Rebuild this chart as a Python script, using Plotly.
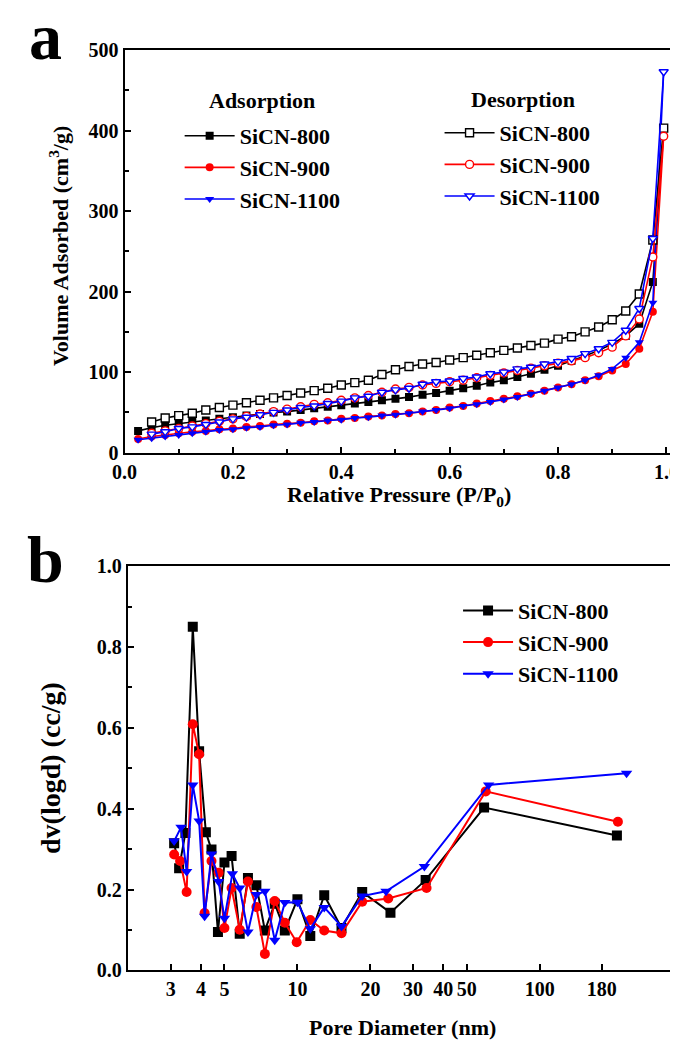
import plotly.graph_objects as go

# ---------------- data: panel a (N2 isotherms) ----------------
p_ads = [0.025, 0.05, 0.075, 0.1, 0.125, 0.15, 0.175, 0.2, 0.225, 0.25,
         0.275, 0.3, 0.325, 0.35, 0.375, 0.4, 0.425, 0.45, 0.475, 0.5,
         0.525, 0.55, 0.575, 0.6, 0.625, 0.65, 0.675, 0.7, 0.725, 0.75,
         0.775, 0.8, 0.825, 0.85, 0.875, 0.9, 0.925, 0.95, 0.975, 0.995]
p_des = [0.05, 0.075, 0.1, 0.125, 0.15, 0.175, 0.2, 0.225, 0.25,
         0.275, 0.3, 0.325, 0.35, 0.375, 0.4, 0.425, 0.45, 0.475, 0.5,
         0.525, 0.55, 0.575, 0.6, 0.625, 0.65, 0.675, 0.7, 0.725, 0.75,
         0.775, 0.8, 0.825, 0.85, 0.875, 0.9, 0.925, 0.95, 0.975, 0.995]

ads_800 = [27, 31, 34, 36, 38, 40, 42, 44, 46, 48, 50, 51, 53, 55, 57, 59, 61, 63, 65, 67,
           69, 72, 74, 77, 80, 83, 87, 90, 94, 98, 103, 108, 114, 120, 127, 135, 145, 160, 212, 403]
ads_900 = [17, 20, 22, 24, 26, 27, 29, 30, 32, 33, 35, 36, 37, 39, 40, 42, 43, 45, 46, 48,
           49, 51, 53, 56, 58, 61, 64, 67, 70, 73, 77, 81, 85, 90, 95, 102, 110, 129, 175, 393]
ads_1100 = [16, 18, 20, 22, 24, 26, 28, 29, 31, 32, 34, 35, 37, 38, 40, 41, 43, 44, 46, 47,
            49, 51, 53, 55, 58, 60, 63, 66, 69, 73, 77, 81, 85, 90, 96, 104, 118, 137, 186, 473]

des_800 = [38, 43, 46, 49, 53, 56, 59, 62, 65, 68, 71, 74, 77, 80, 84, 87, 90, 97, 103, 107,
           110, 112, 115, 118, 121, 124, 127, 130, 133, 136, 141, 144, 150, 156, 165, 176, 197, 264, 403]
des_900 = [24, 27, 30, 33, 36, 39, 42, 45, 48, 51, 54, 57, 60, 62, 65, 68, 71, 75, 79, 81,
           84, 86, 88, 90, 93, 96, 99, 102, 105, 108, 111, 114, 118, 124, 131, 145, 166, 243, 393]
des_1100 = [23, 26, 30, 32, 35, 38, 42, 44, 47, 50, 53, 56, 58, 61, 64, 68, 70, 75, 78, 80,
            85, 88, 89, 92, 94, 98, 100, 104, 106, 110, 113, 117, 123, 129, 137, 152, 179, 266, 473]

# ---------------- data: panel b (pore size distribution) ----------------
d_800 = [3.10, 3.25, 3.45, 3.70, 3.93, 4.19, 4.42, 4.70, 5.00, 5.35, 5.78, 6.25, 6.77, 7.34,
         8.06, 8.87, 10.0, 11.3, 12.9, 15.2, 18.5, 24.2, 33.8, 58.9, 208]
v_800 = [0.315, 0.253, 0.340, 0.850, 0.542, 0.342, 0.299, 0.095, 0.267, 0.283, 0.091, 0.229,
         0.211, 0.099, 0.165, 0.099, 0.176, 0.085, 0.186, 0.105, 0.194, 0.143, 0.224, 0.403, 0.334]
d_900 = [3.10, 3.28, 3.49, 3.70, 3.93, 4.14, 4.42, 4.73, 5.00, 5.35, 5.78, 6.25, 6.77, 7.34,
         8.06, 8.87, 9.93, 11.3, 12.9, 15.2, 18.5, 23.7, 34.1, 59.8, 210]
v_900 = [0.287, 0.271, 0.194, 0.609, 0.535, 0.142, 0.271, 0.242, 0.105, 0.204, 0.101, 0.220,
         0.157, 0.041, 0.172, 0.118, 0.070, 0.125, 0.099, 0.092, 0.170, 0.178, 0.204, 0.443, 0.368]
d_1100 = [3.10, 3.31, 3.49, 3.70, 3.93, 4.14, 4.42, 4.73, 5.00, 5.39, 5.78, 6.25, 6.77, 7.34,
          8.06, 8.87, 10.0, 11.3, 12.9, 15.2, 18.5, 23.2, 33.4, 61.5, 228]
v_1100 = [0.320, 0.354, 0.245, 0.459, 0.370, 0.134, 0.288, 0.220, 0.129, 0.239, 0.204, 0.095,
          0.188, 0.196, 0.075, 0.168, 0.169, 0.103, 0.156, 0.109, 0.184, 0.196, 0.257, 0.459, 0.488]

pore_ticks = [3, 4, 5, 10, 20, 30, 40, 50, 100, 180]
names = ["SiCN-800", "SiCN-900", "SiCN-1100"]
colors = ["#000000", "#ff0000", "#0000ff"]

# ---------------- figure ----------------
W, H = 678, 1042
FONT = "Liberation Serif"


def px(x):
    return x / W


def py(y):
    return 1 - y / H


fig = go.Figure()

ads_sets = [ads_800, ads_900, ads_1100]
des_sets = [des_800, des_900, des_1100]
filled = ["square", "circle", "triangle-down"]

for name, col, sym, ys in zip(names, colors, filled, ads_sets):
    fig.add_trace(go.Scatter(
        x=p_ads, y=ys, mode="lines+markers", name=name, legend="legend",
        line=dict(color=col, width=1.6),
        marker=dict(symbol=sym, size=8, color=col, line=dict(width=0)),
        xaxis="x", yaxis="y"))

for name, col, sym, ys in zip(names, colors, filled, des_sets):
    fig.add_trace(go.Scatter(
        x=p_des, y=ys, mode="lines+markers", name=name, legend="legend2",
        line=dict(color=col, width=1.6),
        marker=dict(symbol=sym, size=8, color="white", line=dict(color=col, width=1.4)),
        xaxis="x", yaxis="y"))

for name, col, sym, xs, ys in zip(names, colors, filled,
                                  [d_800, d_900, d_1100], [v_800, v_900, v_1100]):
    fig.add_trace(go.Scatter(
        x=xs, y=ys, mode="lines+markers", name=name, legend="legend3",
        line=dict(color=col, width=2),
        marker=dict(symbol=sym, size=10, color=col, line=dict(width=0)),
        xaxis="x2", yaxis="y2"))

tickfont = dict(family=FONT, size=20, color="black", weight="bold")
axis_common = dict(showline=True, linewidth=2, linecolor="black", mirror=True,
                   ticks="inside", ticklen=6, tickwidth=1.5, tickcolor="black",
                   showgrid=False, zeroline=False, tickfont=tickfont)

top_x = [107.4, 670.8]
top_y = [31.7, 443.0]
bot_x = [110.7, 674.6]
bot_y = [559.0, 972.0]

legend_font = dict(family=FONT, size=22, weight="bold", color="black")

fig.update_layout(
    width=W, height=H,
    margin=dict(l=0, r=0, t=0, b=0),
    paper_bgcolor="white", plot_bgcolor="white",
    font=dict(family=FONT, color="black"),
    xaxis=dict(domain=[px(top_x[0]), px(top_x[1])], anchor="y",
               range=[0, 1.0122], tickmode="linear", tick0=0, dtick=0.2,
               tickformat=".1f",
               minor=dict(ticks="inside", dtick=0.1, ticklen=4, tickcolor="black"),
               **axis_common),
    yaxis=dict(domain=[py(top_y[1]), py(top_y[0])], anchor="x",
               range=[0, 500], tickmode="linear", tick0=0, dtick=100,
               minor=dict(ticks="inside", dtick=50, ticklen=4, tickcolor="black"),
               **axis_common),
    xaxis2=dict(domain=[px(bot_x[0]), px(bot_x[1])], anchor="y2", type="log",
                range=[0.300, 2.5647], tickmode="array",
                tickvals=pore_ticks, ticktext=[str(t) for t in pore_ticks],
                **axis_common),
    yaxis2=dict(domain=[py(bot_y[1]), py(bot_y[0])], anchor="x2",
                range=[0, 1.0], tickmode="linear", tick0=0, dtick=0.2,
                tickformat=".1f",
                minor=dict(ticks="inside", dtick=0.1, ticklen=4, tickcolor="black"),
                **axis_common),
    legend=dict(x=px(164), y=py(98), xanchor="left", yanchor="top",
                bgcolor="rgba(0,0,0,0)", itemwidth=50, font=legend_font,
                tracegroupgap=0),
    legend2=dict(x=px(431), y=py(95), xanchor="left", yanchor="top",
                 bgcolor="rgba(0,0,0,0)", itemwidth=50, font=legend_font,
                 tracegroupgap=0),
    legend3=dict(x=px(450), y=py(583), xanchor="left", yanchor="top",
                 bgcolor="rgba(0,0,0,0)", itemwidth=50, font=legend_font,
                 tracegroupgap=0),
    showlegend=True,
)

title_font = dict(family=FONT, size=22, color="black", weight="bold")
annotations = [
    dict(text="Volume Adsorbed (cm<sup>3</sup>/g)", x=px(40), y=py(232), textangle=-90),
    dict(text="Relative Pressure (P/P<sub>0</sub>)", x=px((top_x[0] + top_x[1]) / 2), y=py(487)),
    dict(text="dv(logd) (cc/g)", x=px(32), y=py(765), textangle=-90,
         font=dict(family=FONT, size=28, color="black", weight="bold")),
    dict(text="Pore Diameter (nm)", x=px((bot_x[0] + bot_x[1]) / 2), y=py(1030)),
    dict(text="Adsorption", x=px(249), y=py(83)),
    dict(text="Desorption", x=px(517), y=py(82)),
]
for a in annotations:
    a.setdefault("font", title_font)
    a.update(xref="paper", yref="paper", xanchor="center", yanchor="middle",
             showarrow=False)
    fig.add_annotation(**a)

panel_font = dict(family=FONT, size=66, color="black", weight="bold")
fig.add_annotation(text="a", x=px(26), y=py(18), xref="paper", yref="paper",
                   xanchor="center", yanchor="middle", showarrow=False, font=panel_font)
fig.add_annotation(text="b", x=px(26), y=py(552), xref="paper", yref="paper",
                   xanchor="center", yanchor="middle", showarrow=False, font=panel_font)

fig.write_html("out.html")
